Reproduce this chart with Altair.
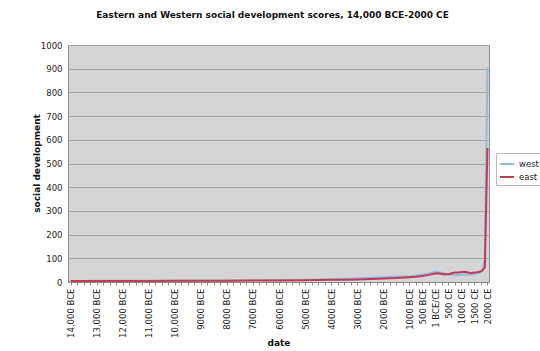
import altair as alt
import pandas as pd

years = [-14000, -13000, -12000, -11000, -10000, -9000, -8000, -7000, -6000, -5000,
         -4000, -3500, -3000, -2500, -2000, -1500, -1000, -750, -500, -250,
         0, 100, 200, 300, 400, 500, 600, 700, 800, 900,
         1000, 1100, 1200, 1300, 1400, 1500, 1600, 1700, 1800, 1900, 2000]

west = [4.4, 4.9, 4.9, 5.2, 5.6, 6.1, 6.8, 7.5, 8.5, 9.8,
        12.0, 13.5, 15.0, 17.5, 20.0, 23.0, 24.5, 27.0, 31.0, 36.0,
        43.0, 42.0, 40.0, 38.0, 36.0, 33.0, 31.0, 29.0, 28.5, 29.5,
        30.5, 31.5, 32.0, 31.5, 32.0, 33.5, 36.5, 41.0, 50.0, 93.0, 906.0]

east = [4.1, 4.3, 4.4, 4.5, 4.8, 5.0, 5.5, 6.0, 6.8, 7.8,
        9.0, 10.0, 11.0, 12.5, 14.5, 17.0, 20.0, 22.0, 25.0, 30.0,
        36.0, 37.0, 35.0, 33.0, 32.5, 33.0, 36.0, 39.0, 40.0, 40.5,
        42.0, 43.0, 42.5, 39.0, 38.5, 40.0, 41.0, 43.0, 48.0, 62.0, 565.0]

tick_years = [-14000, -13000, -12000, -11000, -10000, -9000, -8000, -7000, -6000,
              -5000, -4000, -3000, -2000, -1000, -500, 0, 500, 1000, 1500, 2000]
tick_labels = ["14,000 BCE", "13,000 BCE", "12,000 BCE", "11,000 BCE", "10,000 BCE",
               "9000 BCE", "8000 BCE", "7000 BCE", "6000 BCE", "5000 BCE", "4000 BCE",
               "3000 BCE", "2000 BCE", "1000 BCE", "500 BCE", "1 BCE/CE",
               "500 CE", "1000 CE", "1500 CE", "2000 CE"]

minor_ticks = list(range(-14000, 2001, 250))

rows = []
for y, v in zip(years, west):
    rows.append({"year": y, "value": v, "series": "west"})
for y, v in zip(years, east):
    rows.append({"year": y, "value": v, "series": "east"})
df = pd.DataFrame(rows)

label_map = "{" + ",".join(f'"{y}":"{l}"' for y, l in zip(tick_years, tick_labels)) + "}"
label_expr = f"({label_map})[''+datum.value] || ''"

FONT = "DejaVu Sans"

chart = alt.Chart(df).mark_line(strokeWidth=2, interpolate="linear").encode(
    x=alt.X("year:Q",
            scale=alt.Scale(domain=[-14100, 2060], nice=False, zero=False),
            axis=alt.Axis(values=minor_ticks, labelExpr=label_expr, labelAngle=270,
                          labelFontSize=8.5, labelFont=FONT, labelColor="#222",
                          labelPadding=3, tickSize=3, tickColor="#888",
                          domainColor="#888", grid=False, labelOverlap=False,
                          title="date", titleFont=FONT, titleFontSize=9,
                          titleFontWeight="bold", titleY=60, titleBaseline="middle",
                          titleColor="#111")),
    y=alt.Y("value:Q",
            scale=alt.Scale(domain=[0, 1000], nice=False),
            axis=alt.Axis(values=list(range(0, 1001, 100)), format="d",
                          labelFontSize=8.5,
                          labelFont=FONT, labelColor="#222", tickSize=0,
                          labelPadding=6, domain=False, grid=True,
                          gridColor="#a3a3a3", gridWidth=1,
                          title="social development", titleFont=FONT,
                          titleFontSize=9, titleFontWeight="bold", titleColor="#111",
                          titleX=-32, titleY=118, titleAlign="center",
                          titleBaseline="middle", titleAngle=270)),
    color=alt.Color("series:N",
                    scale=alt.Scale(domain=["west", "east"],
                                    range=["#8fbde2", "#c23b52"]),
                    legend=alt.Legend(title=None, orient="none", legendX=428,
                                      legendY=108, symbolType="stroke",
                                      symbolStrokeWidth=2, symbolSize=196,
                                      labelFont=FONT, labelFontSize=8.5,
                                      labelColor="#222", rowPadding=0,
                                      strokeColor="#bbbbbb", padding=3,
                                      fillColor="white")),
    order=alt.Order("series:N", sort="descending"),
).properties(
    width=421, height=237,
    title=alt.TitleParams("Eastern and Western social development scores, 14,000 BCE-2000 CE",
                          font=FONT, fontSize=9, fontWeight="bold", color="#111",
                          anchor="middle", dx=-6, offset=21),
    padding={"left": 68, "top": 45, "right": 51, "bottom": 69},
    autosize=alt.AutoSizeParams(type="none"),
    background="white",
).configure_view(
    fill="#d5d5d5", stroke="#8c8c8c", strokeWidth=1
)

chart.save("out.html", embed_options={"renderer": "svg", "actions": False})
